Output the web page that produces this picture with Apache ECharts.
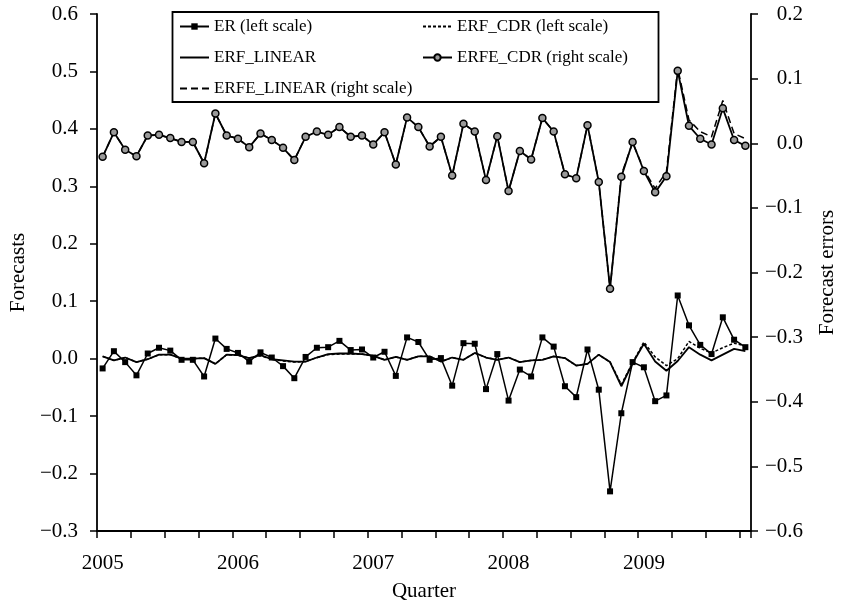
<!DOCTYPE html>
<html>
<head>
<meta charset="utf-8">
<script src="https://cdn.jsdelivr.net/npm/echarts@6/dist/echarts.min.js"></script>
<style>
  html, body { margin: 0; padding: 0; background: #fff; }
  #chart { width: 846px; height: 607px; }
</style>
</head>
<body>
<div id="chart"></div>
<script>
// Monthly observations, Jan 2005 – Oct 2009
const months = [
  '2005-01','2005-02','2005-03','2005-04','2005-05','2005-06','2005-07','2005-08','2005-09','2005-10','2005-11','2005-12',
  '2006-01','2006-02','2006-03','2006-04','2006-05','2006-06','2006-07','2006-08','2006-09','2006-10','2006-11','2006-12',
  '2007-01','2007-02','2007-03','2007-04','2007-05','2007-06','2007-07','2007-08','2007-09','2007-10','2007-11','2007-12',
  '2008-01','2008-02','2008-03','2008-04','2008-05','2008-06','2008-07','2008-08','2008-09','2008-10','2008-11','2008-12',
  '2009-01','2009-02','2009-03','2009-04','2009-05','2009-06','2009-07','2009-08','2009-09','2009-10'
];

// Realised excess returns (left scale)
const er = [
  -0.017, 0.013, -0.006, -0.029, 0.009, 0.019, 0.014, -0.002, -0.002, -0.031, 0.035, 0.017,
   0.010, -0.005, 0.011, 0.002, -0.013, -0.034, 0.003, 0.019, 0.020, 0.031, 0.015, 0.016,
   0.002, 0.012, -0.030, 0.037, 0.029, -0.002, 0.001, -0.047, 0.027, 0.026, -0.053, 0.008,
  -0.073, -0.019, -0.031, 0.037, 0.021, -0.048, -0.067, 0.016, -0.054, -0.231, -0.095, -0.006,
  -0.015, -0.074, -0.064, 0.110, 0.058, 0.024, 0.008, 0.072, 0.033, 0.020
];

// CDR forecasts (left scale)
const erfCdr = [
   0.004, -0.003, 0.002, -0.006, -0.001, 0.007, 0.007, 0.000, 0.000, 0.001, -0.009, 0.007,
   0.006, 0.001, 0.005, -0.001, -0.004, -0.006, -0.005, 0.002, 0.007, 0.008, 0.008, 0.008,
   0.005, -0.002, 0.003, -0.002, 0.004, 0.004, -0.005, 0.002, -0.002, 0.010, 0.002, -0.002,
   0.002, -0.006, -0.003, -0.002, 0.004, 0.001, -0.012, -0.009, 0.007, -0.006, -0.045, -0.007,
   0.029, 0.003, -0.012, 0.000, 0.030, 0.018, 0.010, 0.019, 0.027, 0.022
];

// Linear forecasts (left scale)
const erfLinear = [
   0.004, -0.003, 0.002, -0.006, -0.001, 0.007, 0.007, 0.000, 0.000, 0.001, -0.009, 0.007,
   0.006, 0.001, 0.006, -0.001, -0.003, -0.005, -0.005, 0.002, 0.008, 0.009, 0.009, 0.008,
   0.005, -0.002, 0.003, -0.002, 0.004, 0.004, -0.005, 0.002, -0.002, 0.010, 0.002, -0.002,
   0.002, -0.006, -0.003, -0.002, 0.004, 0.001, -0.012, -0.009, 0.007, -0.006, -0.048, -0.008,
   0.026, -0.005, -0.021, -0.004, 0.020, 0.007, -0.003, 0.007, 0.017, 0.013
];

// CDR forecast errors (right scale)
const erfeCdr = [
  -0.021, 0.017, -0.010, -0.020, 0.012, 0.013, 0.008, 0.002, 0.002, -0.031, 0.046, 0.012,
   0.007, -0.006, 0.015, 0.005, -0.007, -0.026, 0.010, 0.018, 0.013, 0.025, 0.010, 0.012,
  -0.002, 0.017, -0.033, 0.040, 0.025, -0.005, 0.010, -0.050, 0.030, 0.018, -0.057, 0.011,
  -0.074, -0.012, -0.025, 0.039, 0.018, -0.048, -0.054, 0.028, -0.060, -0.225, -0.052, 0.002,
  -0.043, -0.076, -0.051, 0.112, 0.027, 0.007, -0.002, 0.054, 0.005, -0.004
];

// Linear forecast errors (right scale)
const erfeLinear = [
  -0.021, 0.017, -0.010, -0.020, 0.012, 0.013, 0.008, 0.002, 0.002, -0.031, 0.046, 0.012,
   0.007, -0.006, 0.015, 0.005, -0.007, -0.026, 0.010, 0.018, 0.013, 0.025, 0.010, 0.012,
  -0.002, 0.017, -0.033, 0.040, 0.025, -0.005, 0.010, -0.050, 0.030, 0.018, -0.057, 0.011,
  -0.074, -0.012, -0.025, 0.039, 0.018, -0.048, -0.054, 0.028, -0.060, -0.225, -0.049, 0.001,
  -0.041, -0.070, -0.044, 0.116, 0.036, 0.018, 0.010, 0.066, 0.015, 0.007
];

const seriesNames = {
  er: 'ER (left scale)',
  cdr: 'ERF_CDR (left scale)',
  lin: 'ERF_LINEAR',
  eCdr: 'ERFE_CDR (right scale)',
  eLin: 'ERFE_LINEAR (right scale)'
};

const FONT = 'Liberation Serif';
const BLACK = '#000';

function tickText(v) {
  const r = Math.round(v * 10) / 10;
  return (r === 0 ? 0 : r).toFixed(1).replace('-', '\u2212');
}

const axisLineStyle = { color: BLACK, width: 1.8 };
const tickStyle = { color: BLACK, width: 1.5 };
const labelStyle = { fontFamily: FONT, fontSize: 21, color: BLACK };
const legendText = { fontFamily: FONT, fontSize: 17, color: BLACK };
const hiddenSymbol = { opacity: 0 };

const chart = echarts.init(document.getElementById('chart'), null, { renderer: 'canvas' });

chart.setOption({
  animation: false,
  backgroundColor: '#fff',
  grid: { left: 83, right: 88, top: 14, bottom: 74, containLabel: false },
  graphic: [{
    type: 'rect',
    z: 50,
    shape: { x: 172.5, y: 12, width: 486, height: 90 },
    style: { fill: '#fff', stroke: BLACK, lineWidth: 1.8 }
  }],
  legend: [
    {
      z: 60,
      orient: 'vertical',
      left: 179, top: 18,
      padding: 0,
      itemWidth: 29, itemHeight: 8, itemGap: 14,
      selectedMode: false,
      textStyle: legendText,
      data: [
        { name: seriesNames.er },
        { name: seriesNames.lin, itemStyle: hiddenSymbol },
        { name: seriesNames.eLin, itemStyle: hiddenSymbol }
      ]
    },
    {
      z: 60,
      orient: 'vertical',
      left: 422, top: 18,
      padding: 0,
      itemWidth: 29, itemHeight: 8, itemGap: 14,
      selectedMode: false,
      textStyle: legendText,
      data: [
        { name: seriesNames.cdr, itemStyle: hiddenSymbol },
        { name: seriesNames.eCdr }
      ]
    }
  ],
  xAxis: {
    type: 'category',
    data: months,
    boundaryGap: true,
    name: 'Quarter',
    nameLocation: 'middle',
    nameGap: 50,
    nameTextStyle: labelStyle,
    axisLine: { onZero: false, lineStyle: axisLineStyle },
    axisTick: { show: true, interval: 2, length: 7, inside: false, lineStyle: tickStyle },
    axisLabel: {
      ...labelStyle,
      margin: 22,
      interval: (i) => i % 12 === 0,
      formatter: (v) => v.slice(0, 4)
    },
    splitLine: { show: false }
  },
  yAxis: [
    {
      type: 'value',
      min: -0.3, max: 0.6, interval: 0.1,
      name: 'Forecasts',
      nameLocation: 'middle',
      nameGap: 53,
      nameRotate: 90,
      nameTextStyle: labelStyle,
      axisLine: { show: true, onZero: false, lineStyle: axisLineStyle },
      axisTick: { show: true, length: 7, inside: false, lineStyle: tickStyle },
      axisLabel: { ...labelStyle, margin: 19, formatter: tickText },
      splitLine: { show: false }
    },
    {
      type: 'value',
      position: 'right',
      min: -0.6, max: 0.2, interval: 0.1,
      name: 'Forecast errors',
      nameLocation: 'middle',
      nameGap: 66,
      nameRotate: 90,
      nameTextStyle: labelStyle,
      axisLine: { show: true, onZero: false, lineStyle: axisLineStyle },
      axisTick: { show: true, length: 7, inside: false, lineStyle: tickStyle },
      axisLabel: { ...labelStyle, margin: 52, align: 'right', formatter: tickText },
      splitLine: { show: false }
    }
  ],
  series: [
    {
      name: seriesNames.eLin,
      type: 'line',
      yAxisIndex: 1,
      data: erfeLinear,
      symbol: 'none',
      lineStyle: { color: BLACK, width: 1.5, type: [7, 4] },
      itemStyle: { color: BLACK },
      z: 2
    },
    {
      name: seriesNames.eCdr,
      type: 'line',
      yAxisIndex: 1,
      data: erfeCdr,
      symbol: 'circle',
      symbolSize: 7,
      lineStyle: { color: BLACK, width: 1.8 },
      itemStyle: { color: '#9a9a9a', borderColor: BLACK, borderWidth: 1.5 },
      z: 3
    },
    {
      name: seriesNames.lin,
      type: 'line',
      yAxisIndex: 0,
      data: erfLinear,
      symbol: 'none',
      lineStyle: { color: BLACK, width: 1.8 },
      itemStyle: { color: BLACK },
      z: 2
    },
    {
      name: seriesNames.cdr,
      type: 'line',
      yAxisIndex: 0,
      data: erfCdr,
      symbol: 'none',
      lineStyle: { color: BLACK, width: 1.5, type: [3, 2] },
      itemStyle: { color: BLACK },
      z: 2
    },
    {
      name: seriesNames.er,
      type: 'line',
      yAxisIndex: 0,
      data: er,
      symbol: 'rect',
      symbolSize: 6,
      lineStyle: { color: BLACK, width: 1.5 },
      itemStyle: { color: BLACK },
      z: 4
    }
  ]
});
</script>
</body>
</html>
